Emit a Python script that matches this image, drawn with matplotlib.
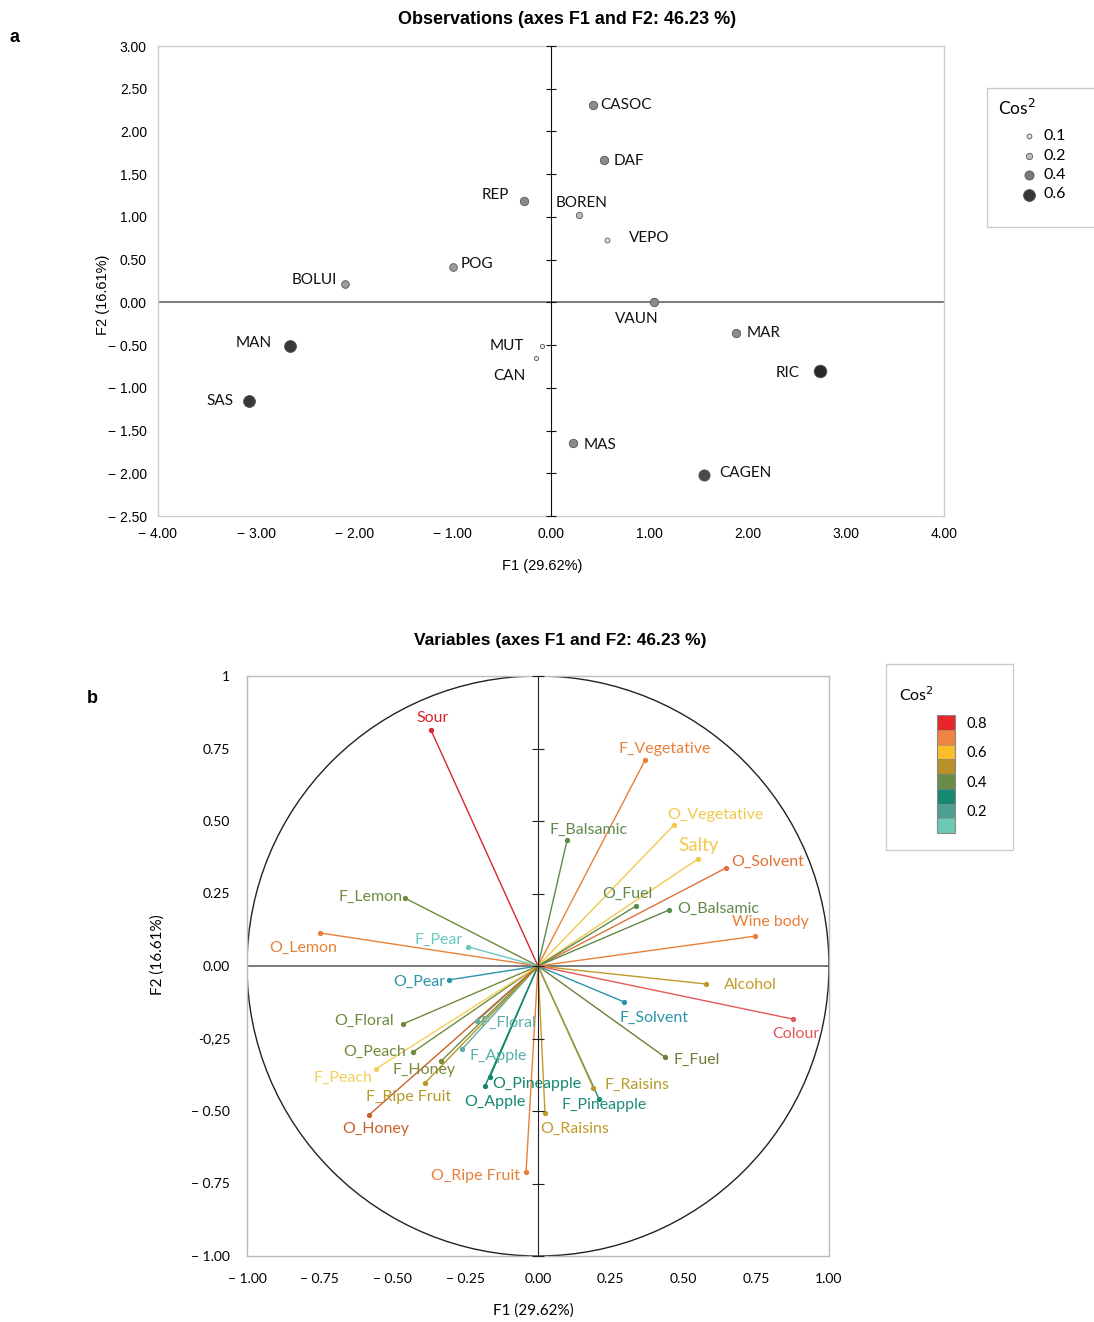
import matplotlib
matplotlib.use('Agg')
import matplotlib.pyplot as plt
from matplotlib.patches import Circle, Rectangle
from matplotlib.colors import ListedColormap, BoundaryNorm
from matplotlib.cm import ScalarMappable
import numpy as np

# ---------------- data: observations ----------------
obs_names = ['CASOC', 'DAF', 'REP', 'BOREN', 'VEPO', 'POG', 'BOLUI', 'VAUN',
             'MAR', 'MAN', 'MUT', 'CAN', 'RIC', 'SAS', 'MAS', 'CAGEN']
obs_f1 = [0.43, 0.54, -0.27, 0.28, 0.57, -1.00, -2.10, 1.05,
          1.88, -2.66, -0.09, -0.15, 2.74, -3.07, 0.22, 1.56]
obs_f2 = [2.31, 1.67, 1.19, 1.02, 0.73, 0.41, 0.22, 0.00,
          -0.36, -0.51, -0.51, -0.65, -0.80, -1.15, -1.65, -2.02]
obs_cos2 = [0.35, 0.35, 0.35, 0.2, 0.1, 0.3, 0.3, 0.35,
            0.35, 0.6, 0.05, 0.05, 0.65, 0.6, 0.35, 0.55]

obs_xticks = [-4, -3, -2, -1, 0, 1, 2, 3, 4]
obs_xticklabels = ['− 4.00', '− 3.00', '− 2.00', '− 1.00', '0.00', '1.00', '2.00', '3.00', '4.00']
obs_yticks = [3, 2.5, 2, 1.5, 1, 0.5, 0, -0.5, -1, -1.5, -2, -2.5]
obs_yticklabels = ['3.00', '2.50', '2.00', '1.50', '1.00', '0.50', '0.00', '− 0.50',
                   '− 1.00', '− 1.50', '− 2.00', '− 2.50']
cos2_legend_values = [0.1, 0.2, 0.4, 0.6]

# ---------------- data: variables ----------------
var_names = ['Sour', 'F_Vegetative', 'O_Vegetative', 'F_Balsamic', 'Salty', 'O_Solvent',
             'O_Fuel', 'O_Balsamic', 'Wine body', 'F_Lemon', 'O_Lemon', 'F_Pear',
             'O_Pear', 'O_Floral', 'F_Floral', 'O_Peach', 'F_Apple', 'F_Honey',
             'F_Peach', 'F_Ripe Fruit', 'O_Honey', 'O_Pineapple', 'O_Apple',
             'O_Ripe Fruit', 'O_Raisins', 'F_Pineapple', 'F_Raisins', 'F_Fuel',
             'F_Solvent', 'Alcohol', 'Colour']
var_f1 = [-0.368, 0.368, 0.467, 0.100, 0.550, 0.646,
          0.337, 0.450, 0.746, -0.457, -0.749, -0.240,
          -0.306, -0.464, -0.210, -0.430, -0.260, -0.333,
          -0.557, -0.388, -0.581, -0.165, -0.182,
          -0.041, 0.024, 0.210, 0.190, 0.436,
          0.296, 0.577, 0.876]
var_f2 = [0.814, 0.710, 0.486, 0.434, 0.369, 0.338,
          0.207, 0.193, 0.103, 0.234, 0.114, 0.066,
          -0.048, -0.200, -0.190, -0.297, -0.286, -0.328,
          -0.355, -0.403, -0.514, -0.383, -0.414,
          -0.710, -0.507, -0.459, -0.420, -0.314,
          -0.124, -0.062, -0.183]
var_colors = ['#D9262E', '#E8803A', '#F2C94C', '#5E8A48', '#F2C94C', '#E07038',
              '#5E8A48', '#5E8A48', '#E8803A', '#6E8B3D', '#E8803A', '#6CC7C0',
              '#2B93A8', '#6E8B3D', '#5AAFA8', '#6E8B3D', '#5AAFA8', '#7A8A3A',
              '#F5CE5A', '#B89A2A', '#C8622A', '#12876E', '#12876E',
              '#E8803A', '#C19A2A', '#1E8C78', '#B89A2A', '#6E7E3A',
              '#2B93A8', '#C19A2A', '#E35A5A']

var_ticks = [-1, -0.75, -0.5, -0.25, 0, 0.25, 0.5, 0.75, 1]
var_xticklabels = ['− 1.00', '− 0.75', '− 0.50', '− 0.25', '0.00', '0.25', '0.50', '0.75', '1.00']
var_yticklabels = ['− 1.00', '− 0.75', '− 0.50', '-0,25', '0.00', '0.25', '0.50', '0.75', '1']

cbar_bins = [0.1, 0.2, 0.3, 0.4, 0.5, 0.6, 0.7, 0.8]
cbar_colors = ['#6CC9B4', '#4E9E93', '#17896E', '#6A8A48', '#B8902A', '#F9BE2A', '#EE8440', '#E8262A']
cbar_ticks = [0.2, 0.4, 0.6, 0.8]

# ---------------- label placement (offset pixels: ha, dx, dy-up) ----------------
obs_label_pos = {
    'CASOC': ('left', 7, 0), 'DAF': ('left', 10, -1), 'REP': ('right', -15, 6),
    'BOREN': ('center', 3, 12), 'VEPO': ('left', 22, 2), 'POG': ('left', 8, 3),
    'BOLUI': ('right', -8, 4), 'VAUN': ('center', -17, -17), 'MAR': ('left', 11, 0),
    'MAN': ('right', -18, 3), 'MUT': ('right', -18, 0), 'CAN': ('center', -27, -18),
    'RIC': ('right', -21, -2), 'SAS': ('right', -16, 0), 'MAS': ('left', 11, -2),
    'CAGEN': ('left', 15, 2),
}
var_label_pos = {
    'Sour': ('center', 2, 12), 'F_Vegetative': ('center', 20, 11),
    'O_Vegetative': ('center', 41, 10), 'F_Balsamic': ('center', 21, 10),
    'Salty': ('center', 0, 13), 'O_Solvent': ('left', 5, 6), 'O_Fuel': ('center', -9, 12),
    'O_Balsamic': ('left', 8, 1), 'Wine body': ('center', 15, 14),
    'F_Lemon': ('right', -3, 1), 'O_Lemon': ('center', -17, -15), 'F_Pear': ('center', -30, 7),
    'O_Pear': ('right', -4, -2), 'O_Floral': ('right', -9, 3), 'F_Floral': ('left', 4, -2),
    'O_Peach': ('right', -7, 0), 'F_Apple': ('left', 7, -7), 'F_Honey': ('center', -17, -9),
    'F_Peach': ('center', -33, -9), 'F_Ripe Fruit': ('center', -17, -14),
    'O_Honey': ('center', 7, -14), 'O_Pineapple': ('left', 2, -7), 'O_Apple': ('center', 10, -16),
    'O_Ripe Fruit': ('center', -51, -4), 'O_Raisins': ('center', 30, -16),
    'F_Pineapple': ('center', 5, -6), 'F_Raisins': ('left', 11, 3), 'F_Fuel': ('left', 9, -3),
    'F_Solvent': ('left', -5, -16), 'Alcohol': ('left', 18, -1), 'Colour': ('center', 3, -15),
}

W, H = 1094, 1322
fig = plt.figure(figsize=(W / 100, H / 100), dpi=100)
fig.patch.set_facecolor('white')

LBL = ['Lato', 'DejaVu Sans']
TCK = ['Liberation Sans', 'DejaVu Sans']
TTL = ['Liberation Sans', 'DejaVu Sans']


def rect(x0, y0, x1, y1):
    return [x0 / W, 1 - y1 / H, (x1 - x0) / W, (y1 - y0) / H]


def fpos(x, y):
    return x / W, 1 - y / H


def mdiam(c):
    return (3.5 + 14 * c) * 0.72


def mgray(c):
    g = max(0.15, 1 - 1.3 * c)
    return (g, g, g)


# ================= panel a =================
r_a = rect(158, 46, 944, 516)
ax = fig.add_axes(r_a)
ax.set_xlim(-4, 4)
ax.set_ylim(-2.5, 3)
for s in ax.spines.values():
    s.set_color('#CCCCCC')
    s.set_linewidth(1)
ax.set_xticks(obs_xticks)
ax.set_xticklabels(obs_xticklabels, family=TCK, fontsize=10)
ax.set_yticks(obs_yticks)
ax.set_yticklabels(obs_yticklabels, family=TCK, fontsize=10)
ax.tick_params(length=0, pad=8)
ax.axhline(0, color='#666666', lw=1.2, zorder=1)

for n, x, y, c in zip(obs_names, obs_f1, obs_f2, obs_cos2):
    ax.scatter([x], [y], s=mdiam(c) ** 2, color=mgray(c), edgecolors='#555555',
               linewidths=0.6, zorder=3)
    ha, dx, dy = obs_label_pos[n]
    ax.annotate(n, (x, y), xytext=(dx, dy), textcoords='offset pixels', ha=ha,
                va='center', family=LBL, fontsize=11, color='#111111', zorder=4)

ax2 = fig.add_axes(r_a)
ax2.set_xlim(-4, 4)
ax2.set_ylim(-2.5, 3)
ax2.patch.set_visible(False)
for k in ['top', 'right', 'bottom']:
    ax2.spines[k].set_visible(False)
ax2.spines['left'].set_position(('data', 0))
ax2.spines['left'].set_color('#111111')
ax2.set_xticks([])
ax2.set_yticks(obs_yticks)
ax2.tick_params(axis='y', direction='inout', length=7, labelleft=False, color='#111111')

fig.text(*fpos(567, 20), 'Observations (axes F1 and F2: 46.23 %)', ha='center', va='center',
         family=TTL, fontsize=13, fontweight='bold')
fig.text(*fpos(14, 38), 'a', ha='center', va='center', family=TTL, fontsize=13, fontweight='bold')
fig.text(*fpos(103, 295), 'F2 (16.61%)', ha='center', va='center', rotation=90,
         family=TCK, fontsize=10.5)
fig.text(*fpos(542, 566), 'F1 (29.62%)', ha='center', va='center', family=TCK, fontsize=10.5)

# legend a
fig.add_artist(Rectangle(fpos(987, 227), 200 / W, (227 - 88) / H, transform=fig.transFigure,
                         fill=False, edgecolor='#CCCCCC', lw=1))
fig.text(*fpos(1017, 108), 'Cos$^{2}$', ha='center', va='center', family=LBL, fontsize=12.5)
lax = fig.add_axes([0, 0, 1, 1])
lax.set_xlim(0, W)
lax.set_ylim(H, 0)
lax.axis('off')
for i, c in enumerate(cos2_legend_values):
    yy = 136 + i * 19.5
    lax.scatter([1029], [yy], s=mdiam(c) ** 2, color=mgray(c), edgecolors='#555555',
                linewidths=0.6)
    lax.text(1043, yy, f'{c:.1f}', ha='left', va='center', family=LBL, fontsize=11.5)

# ================= panel b =================
r_b = rect(247, 676, 829, 1256)
bx = fig.add_axes(r_b)
bx.set_xlim(-1, 1)
bx.set_ylim(-1, 1)
for s in bx.spines.values():
    s.set_color('#BBBBBB')
    s.set_linewidth(1)
bx.set_xticks(var_ticks)
bx.set_xticklabels(var_xticklabels, family=LBL, fontsize=10)
bx.set_yticks(var_ticks)
bx.set_yticklabels(var_yticklabels, family=LBL, fontsize=10)
bx.tick_params(length=0, pad=12)
bx.axhline(0, color='#555555', lw=1.1, zorder=1)
bx.add_patch(Circle((0, 0), 1, fill=False, edgecolor='#222222', lw=1, zorder=2))

for n, x, y, col in zip(var_names, var_f1, var_f2, var_colors):
    bx.plot([0, x], [0, y], color=col, lw=1.0, zorder=3)
    bx.plot([x], [y], 'o', color=col, ms=2.8, zorder=4)
    ha, dx, dy = var_label_pos[n]
    fs = 13.5 if n == 'Salty' else 11.5
    bx.annotate(n, (x, y), xytext=(dx, dy), textcoords='offset pixels', ha=ha,
                va='center', family=LBL, fontsize=fs, color=col, zorder=5)

bx2 = fig.add_axes(r_b)
bx2.set_xlim(-1, 1)
bx2.set_ylim(-1, 1)
bx2.patch.set_visible(False)
for k in ['top', 'right', 'bottom']:
    bx2.spines[k].set_visible(False)
bx2.spines['left'].set_position(('data', 0))
bx2.spines['left'].set_color('#222222')
bx2.set_xticks([])
bx2.set_yticks(var_ticks)
bx2.tick_params(axis='y', direction='inout', length=8, labelleft=False, color='#222222')

fig.text(*fpos(560, 640), 'Variables (axes F1 and F2: 46.23 %)', ha='center', va='center',
         family=TTL, fontsize=12.5, fontweight='bold')
fig.text(*fpos(92, 698), 'b', ha='center', va='center', family=TTL, fontsize=13, fontweight='bold')
fig.text(*fpos(158, 955), 'F2 (16.61%)', ha='center', va='center', rotation=90,
         family=LBL, fontsize=11)
fig.text(*fpos(533, 1311), 'F1 (29.62%)', ha='center', va='center', family=LBL, fontsize=11)

# legend b
fig.add_artist(Rectangle(fpos(886, 850), (1013 - 886) / W, (850 - 664) / H,
                         transform=fig.transFigure, fill=False, edgecolor='#CCCCCC', lw=1))
fig.text(*fpos(916, 695), 'Cos$^{2}$', ha='center', va='center', family=LBL, fontsize=11.5)
cax = fig.add_axes(rect(937, 715, 955, 833))
bounds = [b - 0.05 for b in cbar_bins] + [cbar_bins[-1] + 0.05]
norm = BoundaryNorm(bounds, len(cbar_colors))
cb = fig.colorbar(ScalarMappable(norm=norm, cmap=ListedColormap(cbar_colors)), cax=cax,
                  ticks=cbar_ticks, drawedges=True)
cb.minorticks_off()
cb.outline.set_edgecolor('#888888')
cb.dividers.set_color('#888888')
cb.ax.tick_params(which='both', length=0, pad=8)
cb.ax.set_yticklabels([f'{t:.1f}' for t in cbar_ticks], family=LBL, fontsize=10.5)

fig.savefig('out.png', dpi=100, facecolor='white')
